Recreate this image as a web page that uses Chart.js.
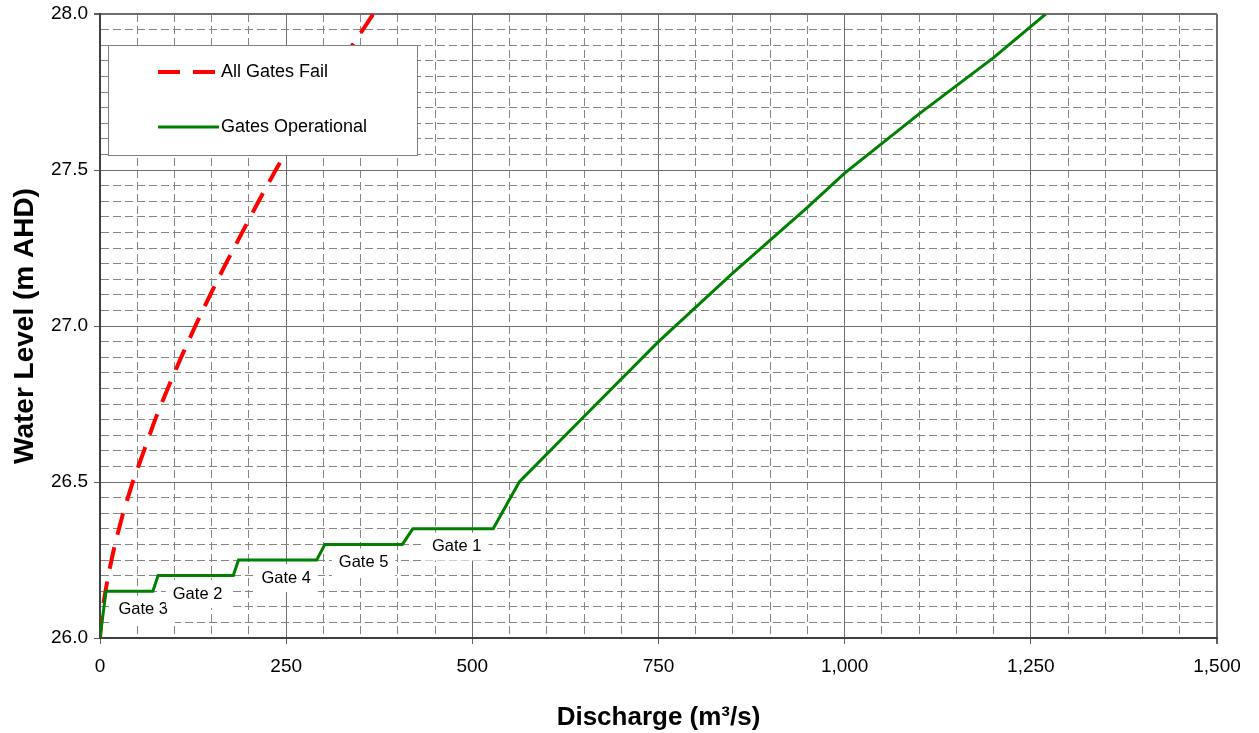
<!DOCTYPE html>
<html>
<head>
<meta charset="utf-8">
<script src="https://cdn.jsdelivr.net/npm/chart.js@4.4.0/dist/chart.umd.min.js"></script>
<style>
html,body{margin:0;padding:0;background:#fff;}
#wrap{width:1259px;height:733px;position:relative;}
</style>
</head>
<body>
<div id="wrap"><canvas id="c" width="1259" height="733"></canvas></div>
<script>
// ---- Data ----
const failQ = [0, 1.5, 3.8, 11, 20, 31, 44, 59, 74, 91, 109, 128, 148, 169, 191, 213, 236, 260, 285, 311, 339, 367];
const failH = [26.0, 26.05, 26.1, 26.2, 26.3, 26.4, 26.5, 26.6, 26.7, 26.8, 26.9, 27.0, 27.1, 27.2, 27.3, 27.4, 27.5, 27.6, 27.7, 27.8, 27.9, 28.0];
const operQ = [0, 8, 71, 78, 179, 186, 291, 302, 406, 420, 528, 563, 650, 750, 850, 950, 1000, 1100, 1200, 1270];
const operH = [26.0, 26.15, 26.15, 26.2, 26.2, 26.25, 26.25, 26.3, 26.3, 26.35, 26.35, 26.5, 26.71, 26.95, 27.17, 27.38, 27.49, 27.68, 27.86, 28.0];
const gateLabels = ['Gate 3', 'Gate 2', 'Gate 4', 'Gate 5', 'Gate 1'];
const gateLabelQ = [58, 131, 250, 354, 479];
const gateLabelH = [26.09, 26.141, 26.192, 26.242, 26.293];
const seriesNames = ['All Gates Fail', 'Gates Operational'];
const xTickMajor = [0, 250, 500, 750, 1000, 1250, 1500];
const yTickMajor = [26.0, 26.5, 27.0, 27.5, 28.0];

const FONT = '"Liberation Sans", Arial, Helvetica, sans-serif';
function near(v, arr){ return arr.some(a => Math.abs(a - v) < 1e-6); }
function toPts(xs, ys){ return xs.map((x, i) => ({x: x, y: ys[i]})); }

const gatePlugin = {
  id: 'gateLabels',
  beforeDatasetsDraw(chart){
    const {ctx, scales:{x, y}} = chart;
    ctx.save();
    ctx.font = '16.5px ' + FONT;
    ctx.textAlign = 'center';
    ctx.textBaseline = 'middle';
    gateLabels.forEach((t, i) => {
      const px = x.getPixelForValue(gateLabelQ[i]);
      const py = y.getPixelForValue(gateLabelH[i]);
      const w = ctx.measureText(t).width + 14, h = 28;
      ctx.fillStyle = '#ffffff';
      ctx.fillRect(px - w/2, py - h/2, w, h);
      ctx.fillStyle = '#000000';
      ctx.fillText(t, px, py);
    });
    ctx.restore();
  }
};

const legendPlugin = {
  id: 'boxLegend',
  afterDatasetsDraw(chart){
    const {ctx, chartArea:a} = chart;
    const bx = a.left + 8, by = a.top + 31, bw = 309, bh = 110;
    ctx.save();
    ctx.fillStyle = '#ffffff';
    ctx.fillRect(bx, by, bw, bh);
    ctx.strokeStyle = '#808080';
    ctx.lineWidth = 1;
    ctx.strokeRect(bx + 0.5, by + 0.5, bw, bh);
    chart.data.datasets.forEach((ds, i) => {
      const ly = by + 27 + i * 55;
      ctx.beginPath();
      ctx.setLineDash(ds.borderDash || []);
      ctx.strokeStyle = ds.borderColor;
      ctx.lineWidth = ds.borderWidth;
      ctx.moveTo(bx + 50, ly);
      ctx.lineTo(bx + 111, ly);
      ctx.stroke();
      ctx.setLineDash([]);
      ctx.fillStyle = '#000000';
      ctx.font = '18px ' + FONT;
      ctx.textAlign = 'left';
      ctx.textBaseline = 'middle';
      ctx.fillText(ds.label, bx + 113, ly);
    });
    ctx.restore();
  }
};

new Chart(document.getElementById('c'), {
  type: 'line',
  data: {
    datasets: [
      {
        label: seriesNames[0],
        data: toPts(failQ, failH),
        borderColor: '#ff0000',
        borderWidth: 4,
        borderDash: [22, 13],
        pointRadius: 0,
        fill: false,
        tension: 0,
        order: 1
      },
      {
        label: seriesNames[1],
        data: toPts(operQ, operH),
        borderColor: '#008000',
        borderWidth: 3,
        pointRadius: 0,
        fill: false,
        tension: 0,
        order: 0
      }
    ]
  },
  options: {
    responsive: false,
    animation: false,
    layout: { padding: { top: 14, right: 42, left: 0, bottom: 0 } },
    plugins: { legend: { display: false }, tooltip: { enabled: false } },
    scales: {
      x: {
        type: 'linear',
        min: 0, max: 1500,
        afterFit(s){ s.height = 95; s.paddingLeft = 0; s.paddingRight = 0; },
        ticks: {
          stepSize: 50,
          autoSkip: false,
          maxRotation: 0,
          padding: 11,
          color: '#000',
          font: { family: FONT, size: 19 },
          callback: v => near(v, xTickMajor) ? v.toLocaleString('en-US') : ''
        },
        grid: {
          drawTicks: true,
          tickLength: 6,
          color: c => (c.tick && near(c.tick.value, xTickMajor)) ? '#6e6e6e' : '#858585',
          lineWidth: c => (c.tick && c.tick.value === 1500) ? 2 : 1,
          tickColor: c => (c.tick && near(c.tick.value, xTickMajor)) ? '#606060' : 'rgba(0,0,0,0)'
        },
        border: {
          display: true, color: '#404040', width: 2,
          dash: c => (c.tick && !near(c.tick.value, xTickMajor)) ? [8, 4] : []
        },
        title: {
          display: true,
          text: 'Discharge (m³/s)',
          color: '#000',
          font: { family: FONT, size: 26, weight: 'bold' },
          padding: { top: 4, bottom: 0 }
        }
      },
      y: {
        type: 'linear',
        min: 26, max: 28,
        afterFit(s){ s.width = 100; s.paddingTop = 0; s.paddingBottom = 0; },
        ticks: {
          stepSize: 0.05,
          autoSkip: false,
          padding: 6,
          color: '#000',
          font: { family: FONT, size: 19 },
          callback: v => near(v, yTickMajor) ? v.toFixed(1) : ''
        },
        grid: {
          drawTicks: true,
          tickLength: 6,
          color: c => (c.tick && near(c.tick.value, yTickMajor)) ? '#6e6e6e' : '#858585',
          lineWidth: c => (c.tick && Math.abs(c.tick.value - 28) < 1e-6) ? 2 : 1,
          tickColor: c => (c.tick && near(c.tick.value, yTickMajor)) ? '#606060' : 'rgba(0,0,0,0)'
        },
        border: {
          display: true, color: '#404040', width: 2,
          dash: c => (c.tick && !near(c.tick.value, yTickMajor)) ? [8, 4] : []
        },
        title: {
          display: true,
          text: 'Water Level (m AHD)',
          color: '#000',
          font: { family: FONT, size: 28, weight: 'bold' },
          padding: { top: 8, bottom: 0 }
        }
      }
    }
  },
  plugins: [gatePlugin, legendPlugin]
});
</script>
</body>
</html>
